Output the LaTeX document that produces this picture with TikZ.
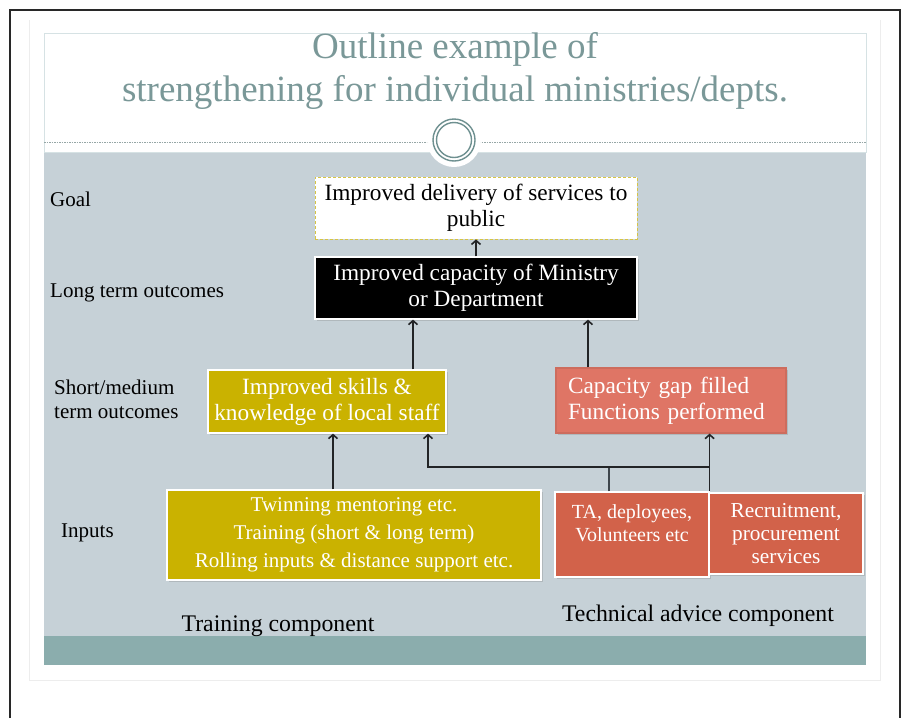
\documentclass[tikz,border=0pt]{standalone}
\usepackage{fontspec}
\setmainfont{Liberation Serif}
\usetikzlibrary{arrows.meta,shadows}

\definecolor{slate}{RGB}{198,209,215}
\definecolor{bandteal}{RGB}{139,173,173}
\definecolor{titleteal}{RGB}{122,152,152}
\definecolor{ringteal}{RGB}{110,144,144}
\definecolor{titleline}{RGB}{214,226,228}
\definecolor{dotgray}{RGB}{150,166,166}
\definecolor{olive}{RGB}{202,178,0}
\definecolor{salmon}{RGB}{223,117,101}
\definecolor{rust}{RGB}{210,98,74}
\definecolor{goldline}{RGB}{214,196,70}
\definecolor{arrowdark}{RGB}{34,36,38}
\definecolor{linkgray}{RGB}{62,70,76}
\definecolor{framegray}{RGB}{40,40,40}

\begin{document}
\begin{tikzpicture}[x=1pt, y=-1pt,
    box/.style={line width=1.2pt, draw=white, text=white, align=center,
        inner sep=0pt, font=\fontsize{23.3}{26}\selectfont,
        drop shadow={opacity=0.3, shadow xshift=1.5pt, shadow yshift=-2pt}},
    goalbox/.style={fill=white, draw=goldline, densely dashed, line width=0.8pt,
        align=center, inner sep=0pt, font=\fontsize{23.3}{26}\selectfont},
    rowlabel/.style={anchor=west, align=left, inner sep=0pt,
        font=\fontsize{21}{24}\selectfont},
    complabel/.style={inner sep=0pt, font=\fontsize{23.8}{27}\selectfont},
    arr/.style={line width=1.6pt, draw=arrowdark,
        -{Straight Barb[length=4pt,width=9pt]}},
    link/.style={line width=1.6pt, draw=linkgray},
    ring/.style={line width=1.4pt, draw=ringteal}]

    \useasboundingbox (0,0) rectangle (905,718);

    % --- Page frame ---
    \draw[black!7, line width=0.8pt] (29,20) -- (29,680) -- (880,680) -- (880,20);
    \draw[framegray, line width=1.5pt] (10,718) -- (10,10) -- (900,10) -- (900,718);

    % --- Slide background ---
    \fill[slate] (44,152) rectangle (866,636);
    \fill[bandteal] (44,636) rectangle (866,665);
    \filldraw[fill=white, draw=titleline] (44,33) rectangle (866,152);
    \draw[dotgray, dash pattern=on 1.5pt off 1pt] (44,142) -- (866,142);

    % Ornament on the title rule
    \fill[white] (454,140) circle (27pt);
    \draw[ring] (454,140) circle (21pt);
    \draw[ring] (454,140) circle (17.5pt);

    \node[text=titleteal, align=center, font=\fontsize{37}{43}\selectfont]
        (title) at (455,71) {Outline example of\\strengthening for individual ministries/depts.};

    % --- Row labels ---
    \node[rowlabel] (lgoal) at (50,199) {Goal};
    \node[rowlabel] (llong) at (50,293) {Long term outcomes};
    \node[rowlabel] (lshort) at (54,399) {Short/medium\\term outcomes};
    \node[rowlabel] (linputs) at (61,533) {Inputs};

    % --- Boxes ---
    \node[goalbox, minimum width=322pt, minimum height=62pt] (goal) at (476,208)
        {Improved delivery of services to\\public};
    \node[box, fill=black, minimum width=322pt, minimum height=62pt] (lt) at (476,288)
        {Improved capacity of Ministry\\or Department};
    \node[box, fill=olive, minimum width=238pt, minimum height=63pt] (skills) at (327,401.5)
        {Improved skills \&\\knowledge of local staff};
    \node[box, fill=salmon, draw=salmon!92!black, align=left, text width=206pt,
        minimum width=230pt, minimum height=65pt] (cap) at (671,400.5)
        {Capacity gap filled\\Functions performed};
    \node[box, fill=olive, minimum width=374pt, minimum height=90pt,
        font=\fontsize{21}{28}\selectfont] (train) at (354,535)
        {Twinning mentoring etc.\\Training (short \& long term)\\Rolling inputs \& distance support etc.};
    \node[box, fill=rust, minimum width=154pt, minimum height=85pt,
        font=\fontsize{20}{23}\selectfont] (ta) at (632,534.5)
        {TA, deployees,\\Volunteers etc\\\phantom{V}};
    \node[box, fill=rust, minimum width=154pt, minimum height=81pt,
        font=\fontsize{21.3}{23}\selectfont] (recr) at (786,533.5)
        {Recruitment,\\procurement\\services};

    % --- Component labels ---
    \node[complabel] (ltrain) at (278,626) {Training component};
    \node[complabel] (ltech) at (698,616) {Technical advice component};

    % --- Connectors ---
    \coordinate (colL) at (413,0);
    \coordinate (colR) at (588,0);
    \coordinate (colT) at (333,0);
    \coordinate (colS) at (428,0);
    \coordinate (colTA) at (609,0);
    \coordinate (split) at (709,467);

    \draw[arr] (lt) -- (goal);
    \draw[arr] (skills.north -| colL) -- (lt.south -| colL);
    \draw[arr] (cap.north -| colR) -- (lt.south -| colR);
    \draw[arr] (train.north -| colT) -- (skills.south -| colT);
    \draw[link] (ta.north -| colTA) |- (split);
    \draw[arr] (split) -| (skills.south -| colS);
    \draw[arr] (ta.north east) -- (cap.south -| ta.east);
\end{tikzpicture}
\end{document}
